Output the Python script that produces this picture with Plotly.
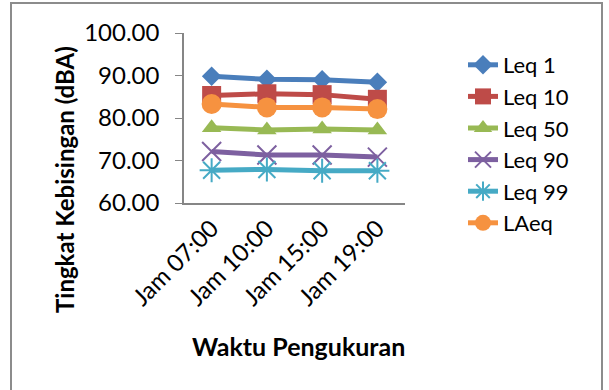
import plotly.graph_objects as go

# data
waktu = ["Jam 07:00", "Jam 10:00", "Jam 15:00", "Jam 19:00"]
leq1 = [89.8, 89.1, 89.0, 88.4]
leq10 = [85.3, 85.7, 85.5, 84.4]
leq50 = [77.7, 77.2, 77.4, 77.2]
leq90 = [72.1, 71.3, 71.3, 70.8]
leq99 = [67.7, 67.9, 67.6, 67.6]
laeq = [83.3, 82.5, 82.5, 82.1]

series = [
    ("Leq 1", leq1, "#4A7EBB", "diamond", 15, None),
    ("Leq 10", leq10, "#BE4B48", "square", 19, None),
    ("Leq 50", leq50, "#98B954", "triangle-up", 17, None),
    ("Leq 90", leq90, "#7D60A0", "x-thin-open", 19, 2),
    ("Leq 99", leq99, "#46AAC5", "asterisk-open", 20, 2),
    ("LAeq", laeq, "#F69240", "circle", 20, None),
]

W, H = 609, 390
L, R, T, B = 184, 204, 33, 187
FONT = "Lato"

fig = go.Figure()
for name, vals, col, sym, size, lw in series:
    marker = dict(symbol=sym, size=size, color=col)
    if lw:
        marker["line"] = dict(color=col, width=lw)
    fig.add_trace(go.Scatter(
        x=waktu, y=vals, name=name, mode="lines+markers",
        line=dict(color=col, width=5),
        marker=marker,
    ))

pw = W - L - R
ph = H - T - B


def px_x(x):
    return (x - L) / pw


def px_y(y):
    return 1 - (y - T) / ph


fig.update_layout(
    width=W, height=H,
    margin=dict(l=L, r=R, t=T, b=B),
    paper_bgcolor="white", plot_bgcolor="white",
    font=dict(family=FONT, size=24, color="black"),
    showlegend=True,
    legend=dict(
        x=px_x(463), xanchor="left",
        y=px_y(44), yanchor="top",
        font=dict(size=22), maxheight=400,
        bgcolor="rgba(0,0,0,0)",
    ),
    xaxis=dict(
        range=[-0.5, 3.5], tickangle=-45, showgrid=False,
        showline=True, linecolor="#868686", linewidth=1.5,
        ticks="", tickfont=dict(size=24),
    ),
    yaxis=dict(
        range=[60, 100], dtick=10, tickformat=".2f", showgrid=False,
        showline=True, linecolor="#868686", linewidth=1.5,
        ticks="outside", ticklen=7, tickcolor="#868686",
        tickfont=dict(size=24), zeroline=False, ticklabelstandoff=11,
    ),
    annotations=[
        dict(text="<b>Waktu Pengukuran</b>", xref="paper", yref="paper",
             x=px_x(298), y=px_y(346), showarrow=False,
             font=dict(size=25), xanchor="center", yanchor="middle"),
        dict(text="<b>Tingkat Kebisingan (dBA)</b>", xref="paper", yref="paper",
             x=px_x(64), y=px_y(180), showarrow=False, textangle=-90,
             font=dict(size=24), xanchor="center", yanchor="middle"),
    ],
    shapes=[dict(
        type="rect", xref="paper", yref="paper",
        x0=px_x(11), x1=px_x(602),
        y0=px_y(400), y1=px_y(3),
        line=dict(color="#8C8C8C", width=2),
    )],
)

fig.write_html("out.html", config={"displayModeBar": False},
               post_script="document.body.style.margin='0';")
